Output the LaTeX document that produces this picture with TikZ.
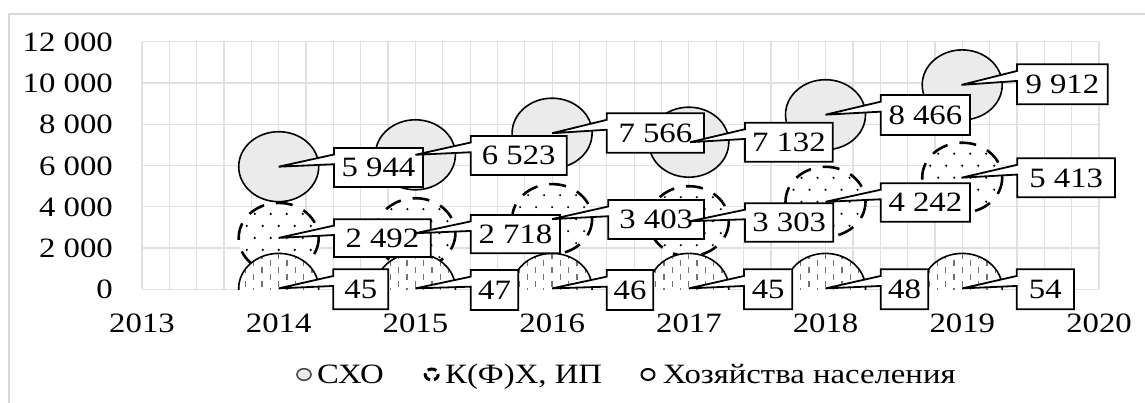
\documentclass[tikz,border=0pt]{standalone}
\usepackage{fontspec}
\setmainfont{Liberation Serif}[FakeStretch=1.17]
\newcommand\callout[8]{%
  \pgfmathsetmacro\cya{#3+(#5-#3)/6}%
  \pgfmathsetmacro\cyb{#3+5*(#5-#3)/12}%
  \draw[cbox] (#2,#3) -- (#4,#3) -- (#4,#5) -- (#2,#5) -- (#2,\cyb) -- (#6,#7) -- (#2,\cya) -- cycle;
  \node[lbl] (#1) at ({(#2+#4)/2},{(#3+#5)/2}) {#8};
}
\begin{document}
\begin{tikzpicture}[x=1pt,y=-1pt,
  gridline/.style={draw=black!12,line width=1.2pt},
  bubA/.style={draw=black,line width=1.6pt,fill=black!8},
  bubB/.style={draw=black,line width=2.6pt,dash pattern=on 17pt off 12pt},
  bubC/.style={draw=black,line width=1.6pt},
  cbox/.style={draw=black,line width=1.8pt,fill=white,line join=miter},
  lbl/.style={inner sep=0pt,text height=19pt,text depth=0pt,font=\fontsize{28}{31}\selectfont},
  axl/.style={inner sep=0pt,text height=19pt,text depth=0pt,font=\fontsize{28}{31}\selectfont},
  leg/.style={inner sep=0pt,anchor=base west,font=\fontsize{28}{31}\selectfont}]
\useasboundingbox (0,0) rectangle (1145,403);
\fill[white] (0,0) rectangle (1145,403);
% outer frame
\draw[draw=black!15,line width=1.5pt] (9,420) -- (9,14) -- (1160,14);
% grid
\foreach \i in {0,...,35} {\draw[gridline] ({142+\i*27.343},41.8) -- ({142+\i*27.343},289.3);}
\foreach \j in {0,...,6} {\draw[gridline] (142,{289.3-\j*41.25}) -- (1099,{289.3-\j*41.25});}
% y labels
\foreach \j/\t in {0/0,1/2 000,2/4 000,3/6 000,4/8 000,5/10 000,6/12 000}
  {\node[axl,anchor=east] (y\j) at (113,{289.3-\j*41.25}) {\t};}
% x labels
\foreach \i in {0,...,7} {\pgfmathtruncatemacro\yr{2013+\i}
  \node[axl] (x\i) at ({142+\i*136.72},322.5) {\yr};}
% bubbles
\begin{scope}
\clip (142,30) rectangle (1099,289.3);
\foreach \x/\y in {278.7/166.7, 415.4/154.8, 552.1/133.2, 688.8/142.2, 825.5/114.7, 962.2/84.9}
  {\draw[bubA] (\x,\y) ellipse [x radius=40, y radius=35];}
\foreach \x/\y in {278.7/237.9, 415.4/233.2, 552.1/219.1, 688.8/221.2, 825.5/201.8, 962.2/177.7}
  {\fill[white] (\x,\y) ellipse [x radius=40, y radius=35];
   \begin{scope}
   \clip (\x,\y) ellipse [x radius=40, y radius=35];
   \foreach \r in {-3,...,3}{\foreach \c in {-3,...,3}{
     \fill[black] ({\x+\c*16+mod(\r+3,2)*8},{\y+\r*12}) circle (1.2pt);}}
   \end{scope}
   \draw[bubB] (\x,\y) ellipse [x radius=40, y radius=35];}
\foreach \x/\y in {278.7/288.4, 415.4/288.4, 552.1/288.4, 688.8/288.4, 825.5/288.4, 962.2/288.4}
  {\fill[white] (\x,\y) ellipse [x radius=40, y radius=35];
   \begin{scope}
   \clip (\x,\y) ellipse [x radius=40, y radius=35];
   \foreach \c in {-5,...,5}{
     \draw[black!55,line width=1.3pt,dash pattern=on 6pt off 8pt] ({\x+\c*8.3},{\y-42-mod(\c+5,2)*7}) -- ({\x+\c*8.3},{\y+2});}
   \end{scope}
   \draw[bubC] (\x,\y) ellipse [x radius=40, y radius=35];}
\end{scope}
% labels: CXO
\callout{a1}{334}{148}{423}{187}{278.7}{166.7}{5 944}
\callout{a2}{470.7}{136}{566.7}{175}{415.4}{154.8}{6 523}
\callout{a3}{606.7}{113.3}{704}{152.7}{552.1}{133.2}{7 566}
\callout{a4}{745}{122.7}{832.7}{161.7}{690}{142.2}{7 132}
\callout{a5}{880.7}{95}{970}{135}{825.5}{114.7}{8 466}
\callout{a6}{1017}{64.3}{1107.7}{104.3}{961.5}{84.9}{9 912}
% labels: K(F)X
\callout{b1}{334}{219.3}{430.7}{257}{278.7}{237.9}{2 492}
\callout{b2}{470.7}{215}{560}{253.3}{415.4}{233.2}{2 718}
\callout{b3}{608.3}{200}{704}{239}{552.1}{219.1}{3 403}
\callout{b4}{745}{203.3}{833.3}{241.7}{690}{221.2}{3 303}
\callout{b5}{880.7}{183.3}{970}{221.7}{825.5}{201.8}{4 242}
\callout{b6}{1017.3}{158.3}{1115}{197.3}{961.5}{177.7}{5 413}
% labels: households
\callout{c1}{333.3}{269.3}{388.3}{309.3}{278.7}{288.4}{45}
\callout{c2}{470.7}{270}{518.3}{310}{415.4}{288.4}{47}
\callout{c3}{606.7}{270}{653.3}{310}{552.1}{288.4}{46}
\callout{c4}{744}{269.3}{792.3}{309.3}{688.8}{288.4}{45}
\callout{c5}{880.7}{269.3}{928.3}{309.3}{825.5}{288.4}{48}
\callout{c6}{1016.7}{269.3}{1074}{309.3}{962.2}{288.4}{54}
% legend
\draw[draw=black!70,fill=black!8,line width=1.6pt] (304,374.5) ellipse [x radius=7, y radius=5.8];
\node[leg] (l1) at (317,383.3) {СХО};
\draw[black,line width=3pt,dash pattern=on 9pt off 4pt,dash phase=2pt] (431.7,374.5) ellipse [x radius=6.5, y radius=5.5];
\node[leg] (l2) at (445,383.3) {К(Ф)Х, ИП};
\draw[black,line width=2pt,fill=white] (648,374.5) ellipse [x radius=6.5, y radius=5.5];
\node[leg] (l3) at (662.7,383.3) {Хозяйства населения};
\end{tikzpicture}
\end{document}
